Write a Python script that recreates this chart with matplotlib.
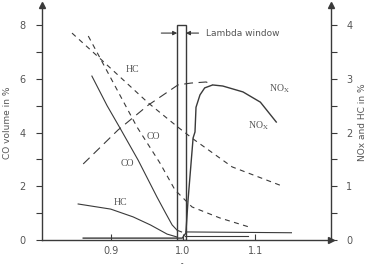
import matplotlib
matplotlib.use("Agg")
import matplotlib.pyplot as plt
from matplotlib.patches import Rectangle

# ---- data (left axis: CO %, right axis: NOx / HC %) ----
co_lam = [0.874, 0.895, 0.913, 0.938, 0.964, 0.976, 0.985, 0.992, 0.998]
co_val = [6.1, 5.0, 4.16, 2.97, 1.6, 1.0, 0.56, 0.36, 0.3]
co_lean_lam = [1.004, 1.15]
co_lean_val = [0.30, 0.27]

co_d_lam = [0.869, 0.9365, 0.968, 0.989, 1.0125, 1.051, 1.0955]
co_d_val = [7.59, 4.20, 2.87, 1.86, 1.23, 0.82, 0.45]

hc_lam = [0.855, 0.9, 0.931, 0.955, 0.978, 0.992]
hc_val = [0.67, 0.575, 0.43, 0.28, 0.11, 0.055]
hc_lean_lam = [1.003, 1.09]
hc_lean_val = [0.075, 0.075]

hc_d_lam = [0.8465, 0.885, 0.952, 0.993, 1.014, 1.068, 1.138]
hc_d_val = [3.85, 3.38, 2.55, 2.10, 1.88, 1.36, 1.0]

nox_lam = [0.862, 0.999, 1.004, 1.007, 1.014, 1.0166, 1.018, 1.0235, 1.030,
           1.041, 1.055, 1.083, 1.107, 1.129]
nox_val = [0.035, 0.035, 0.13, 0.745, 1.90, 2.01, 2.47, 2.70, 2.83,
           2.885, 2.865, 2.755, 2.565, 2.195]

nox_d_lam = [0.862, 0.910, 0.952, 0.993, 1.011, 1.032, 1.041]
nox_d_val = [1.415, 2.045, 2.51, 2.885, 2.92, 2.94, 2.885]

window = [0.992, 1.004]
left_ticks = [0, 2, 4, 6, 8]
right_ticks = [0, 1, 2, 3, 4]
x_ticks = [0.9, 1.0, 1.1]
x_ticklabels = ["0.9", "1.0", "1.1"]

LC = "#3a3a3a"
TC = "#555555"
lw = 0.8

fig = plt.figure(figsize=(3.73, 2.64), dpi=100)
ax = fig.add_axes([42 / 373, 24 / 264, 289 / 373, 235 / 264])
ax2 = ax.twinx()

ax.set_xlim(0.805, 1.2047)
ax.set_ylim(0, 8.745)
ax2.set_ylim(0, 8.745 / 2)

# curves
ax.plot(co_lam, co_val, color=LC, lw=lw)
ax.plot(co_lean_lam, co_lean_val, color=LC, lw=lw)
ax.plot(co_d_lam, co_d_val, color=LC, lw=lw, dashes=(4.5, 4))
ax2.plot(hc_lam, hc_val, color=LC, lw=lw)
ax2.plot(hc_lean_lam, hc_lean_val, color=LC, lw=lw)
ax2.plot(hc_d_lam, hc_d_val, color=LC, lw=lw, dashes=(4.5, 4))
ax2.plot(nox_lam, nox_val, color=LC, lw=1.0)
ax2.plot(nox_d_lam, nox_d_val, color=LC, lw=lw, dashes=(8, 5))

# lambda window
ax.add_patch(Rectangle((window[0], 0), window[1] - window[0], 8,
                       fill=False, edgecolor=LC, lw=1.0, zorder=5))
ax.annotate("", xy=(window[0], 7.7), xytext=(0.970, 7.7),
            arrowprops=dict(arrowstyle="-|>", color=LC, lw=0.8,
                            mutation_scale=6, shrinkA=0, shrinkB=0))
ax.annotate("", xy=(window[1], 7.7), xytext=(1.0215, 7.7),
            arrowprops=dict(arrowstyle="-|>", color=LC, lw=0.8,
                            mutation_scale=6, shrinkA=0, shrinkB=0))
ax.text(1.032, 7.7, "Lambda window", fontsize=6.5, color=TC,
        va="center", ha="left")

# labels on curves
plt.rcParams["mathtext.fontset"] = "stix"
sf = dict(family="Liberation Serif", fontsize=7, color=TC, ha="center", va="center")
ax.text(0.93, 6.36, "HC", **sf)
ax.text(0.959, 3.87, "CO", **sf)
ax.text(0.923, 2.83, "CO", **sf)
ax.text(0.914, 1.41, "HC", **sf)
ax.text(1.133, 5.64, r"NO$_{\mathrm{X}}$", **sf)
ax.text(1.104, 4.26, r"NO$_{\mathrm{X}}$", **sf)

# axes styling
for a in (ax, ax2):
    a.spines["top"].set_visible(False)
    for s in a.spines.values():
        s.set_color(LC)
        s.set_linewidth(1.0)
ax.spines["right"].set_visible(False)
ax2.spines["left"].set_visible(False)
ax2.spines["bottom"].set_visible(False)

ax.set_yticks(left_ticks)
ax.set_yticks([1, 3, 5, 7], minor=True)
ax.tick_params(axis="y", which="both", direction="out", length=4, width=0.8,
               colors=LC, labelcolor=TC, labelsize=7, pad=8)
ax.set_xticks(x_ticks)
ax.set_xticklabels(x_ticklabels)
ax.tick_params(axis="x", which="both", direction="in", length=4, width=0.8,
               colors=LC, labelcolor=TC, labelsize=7, pad=4)
ax2.set_yticks(right_ticks)
ax2.set_yticks([0.5, 1.5, 2.5, 3.5], minor=True)
ax2.tick_params(axis="y", which="both", direction="out", length=4, width=0.8,
                colors=LC, labelcolor=TC, labelsize=7, pad=7)

ax.set_ylabel("CO volume in %", fontsize=6.5, color=TC, labelpad=5)
ax2.set_ylabel("NOx and HC in %", fontsize=6.5, color=TC, labelpad=4)

# axis arrows
ax.plot(0, 1, marker="^", color=LC, markersize=4, transform=ax.transAxes, clip_on=False)
ax.plot(1, 1, marker="^", color=LC, markersize=4, transform=ax.transAxes, clip_on=False)
ax.plot(1, 0, marker=">", color=LC, markersize=4, transform=ax.transAxes, clip_on=False)

fig.text(183 / 373, -0.035, "λ", fontsize=8, color=TC, ha="center", va="bottom")

fig.savefig("out.png", dpi=100)
